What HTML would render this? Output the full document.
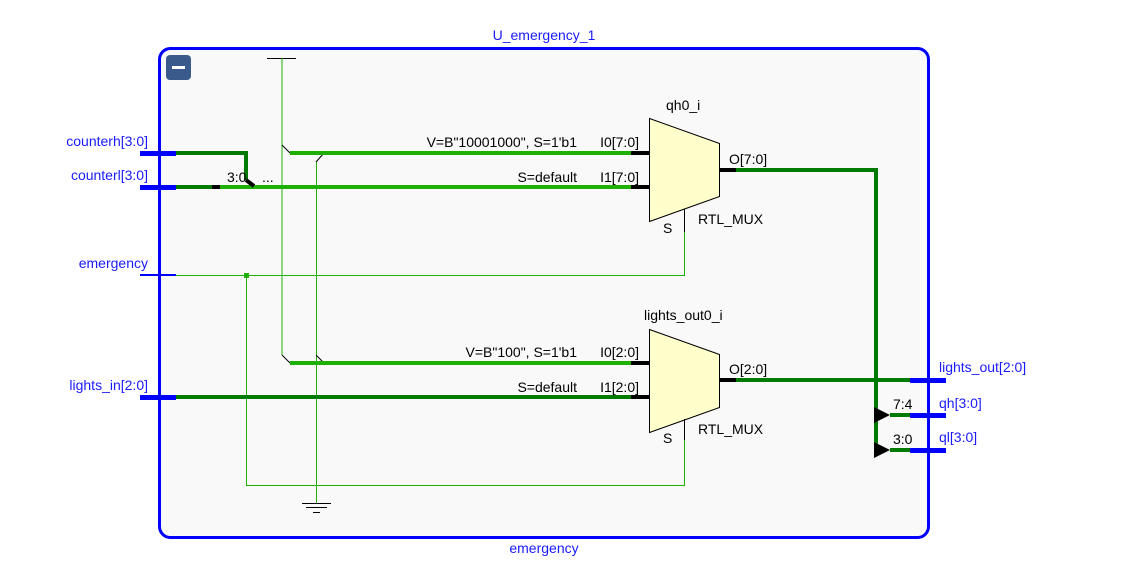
<!DOCTYPE html>
<html><head><meta charset="utf-8"><style>
html,body{margin:0;padding:0;background:#fff;}
svg{display:block;font-family:"Liberation Sans",sans-serif;}
</style></head><body>
<svg width="1126" height="571" viewBox="0 0 1126 571" xmlns="http://www.w3.org/2000/svg">
<rect x="0" y="0" width="1126" height="571" fill="#fff"/>
<rect x="159.5" y="48.5" width="769" height="489" rx="11" fill="#f9f9f9" stroke="#0000ff" stroke-width="3"/>
<rect x="166" y="55" width="25" height="25" rx="4" fill="#3a5a8c"/>
<rect x="172" y="66" width="13" height="3" fill="#fff"/>
<g font-size="14" fill="#1a1aff">
<text x="544" y="40" text-anchor="middle">U_emergency_1</text>
<text x="544" y="553" text-anchor="middle">emergency</text>
<text x="148" y="146" text-anchor="end">counterh[3:0]</text>
<text x="148" y="180" text-anchor="end">counterl[3:0]</text>
<text x="148" y="268" text-anchor="end">emergency</text>
<text x="148" y="390" text-anchor="end">lights_in[2:0]</text>
<text x="939" y="372">lights_out[2:0]</text>
<text x="939" y="408">qh[3:0]</text>
<text x="939" y="442">ql[3:0]</text>
</g>
<!-- VCC / GND -->
<line x1="267" y1="58.5" x2="296" y2="58.5" stroke="#000" stroke-width="1"/>
<line x1="282" y1="58" x2="282" y2="355" stroke="#22b000" stroke-width="1"/>
<line x1="316.5" y1="162" x2="316.5" y2="503" stroke="#22b000" stroke-width="1"/>
<line x1="302" y1="503.5" x2="331" y2="503.5" stroke="#000"/>
<line x1="306" y1="507.5" x2="327" y2="507.5" stroke="#000"/>
<line x1="313" y1="512.5" x2="320" y2="512.5" stroke="#000"/>
<g stroke="#000" stroke-width="1">
<line x1="282" y1="145" x2="290" y2="153"/>
<line x1="316" y1="162" x2="324" y2="153"/>
<line x1="282" y1="355" x2="290" y2="363"/>
<line x1="316" y1="355" x2="324" y2="363"/>
</g>
<!-- emergency select -->
<g stroke="#22b000" stroke-width="1" fill="none">
<polyline points="176,275.5 684.5,275.5 684.5,232"/>
<polyline points="246.5,275 246.5,485.5 684.5,485.5 684.5,440"/>
</g>
<rect x="244" y="273" width="5" height="5" fill="#22b000"/>
<!-- ports -->
<g fill="#0000ff">
<rect x="140" y="151" width="36" height="5"/>
<rect x="140" y="185" width="36" height="5"/>
<rect x="140" y="274" width="36" height="2"/>
<rect x="140" y="395" width="36" height="5"/>
<rect x="910" y="378" width="36" height="5"/>
<rect x="910" y="413" width="36" height="5"/>
<rect x="910" y="448" width="36" height="5"/>
</g>
<!-- buses -->
<g fill="none" stroke-width="4">
<polyline points="176,153 246,153 246,180" stroke="#007a00"/>
<line x1="176" y1="187" x2="212" y2="187" stroke="#007a00"/>
<line x1="212" y1="187" x2="220" y2="187" stroke="#000"/>
<line x1="220" y1="187" x2="631" y2="187" stroke="#1db000"/>
<line x1="246" y1="180" x2="254" y2="186" stroke="#000"/>
<line x1="290" y1="153" x2="631" y2="153" stroke="#1db000"/>
<line x1="290" y1="363" x2="631" y2="363" stroke="#1db000"/>
<line x1="176" y1="397" x2="631" y2="397" stroke="#007a00"/>
<line x1="631" y1="153" x2="649" y2="153" stroke="#000"/>
<line x1="631" y1="187" x2="649" y2="187" stroke="#000"/>
<line x1="631" y1="363" x2="649" y2="363" stroke="#000"/>
<line x1="631" y1="397" x2="649" y2="397" stroke="#000"/>
<line x1="719" y1="170" x2="736" y2="170" stroke="#000"/>
<line x1="719" y1="380" x2="736" y2="380" stroke="#000"/>
<polyline points="736,170 876,170 876,450" stroke="#007a00"/>
<line x1="736" y1="380" x2="910" y2="380" stroke="#007a00"/>
<line x1="890" y1="415" x2="910" y2="415" stroke="#007a00"/>
<line x1="890" y1="450" x2="910" y2="450" stroke="#007a00"/>
</g>
<polygon points="874,407 890,415 874,423" fill="#000"/>
<polygon points="874,442 890,450 874,458" fill="#000"/>
<!-- muxes -->
<polygon points="649.5,118.5 719.5,143.5 719.5,196.5 649.5,221.5" fill="#ffffcc" stroke="#000" stroke-width="1"/>
<polygon points="649.5,329.5 719.5,354.5 719.5,407.5 649.5,432.5" fill="#ffffcc" stroke="#000" stroke-width="1"/>
<line x1="684.5" y1="209" x2="684.5" y2="232" stroke="#000"/>
<line x1="684.5" y1="419" x2="684.5" y2="440" stroke="#000"/>
<g font-size="14" fill="#000">
<text x="666" y="110">qh0_i</text>
<text x="644" y="320">lights_out0_i</text>
<text x="577" y="147" text-anchor="end">V=B"10001000", S=1'b1</text>
<text x="577" y="182" text-anchor="end">S=default</text>
<text x="577" y="357" text-anchor="end">V=B"100", S=1'b1</text>
<text x="577" y="392" text-anchor="end">S=default</text>
<text x="639" y="147" text-anchor="end">I0[7:0]</text>
<text x="639" y="182" text-anchor="end">I1[7:0]</text>
<text x="639" y="357" text-anchor="end">I0[2:0]</text>
<text x="639" y="392" text-anchor="end">I1[2:0]</text>
<text x="729" y="164">O[7:0]</text>
<text x="729" y="374">O[2:0]</text>
<text x="698" y="224">RTL_MUX</text>
<text x="698" y="434">RTL_MUX</text>
<text x="663" y="233">S</text>
<text x="663" y="443">S</text>
<text x="227" y="182">3:0</text>
<text x="262" y="182">...</text>
<text x="893" y="409">7:4</text>
<text x="893" y="444">3:0</text>
</g>
</svg>
</body></html>
